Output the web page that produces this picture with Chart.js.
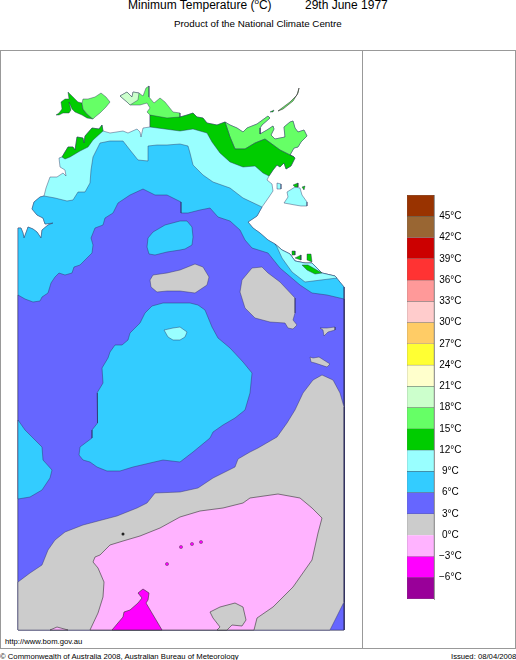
<!DOCTYPE html>
<html>
<head>
<meta charset="utf-8">
<title>Minimum Temperature</title>
<script src="https://cdn.jsdelivr.net/npm/chart.js@4"></script>
<style>
  html, body { margin: 0; padding: 0; background: #fff; }
  body { position: relative; width: 516px; height: 660px; overflow: hidden; font-family: "Liberation Sans", Arial, sans-serif; color: #000; }
  .txt { position: absolute; white-space: nowrap; }
  .line { position: absolute; background: #999; }
  canvas { position: absolute; }
  sup { font-size: 8px; line-height: 0; }
</style>
</head>
<body>
<div class="txt" style="left:128px;top:-2px;font-size:12px">Minimum Temperature (<sup>o</sup>C)</div>
<div class="txt" style="left:305px;top:-2px;font-size:12px">29th June 1977</div>
<div class="txt" style="left:174px;top:18px;font-size:9.8px">Product of the National Climate Centre</div>
<div class="line" style="left:0;top:50px;width:516px;height:1px"></div>
<div class="line" style="left:0;top:50px;width:1px;height:598px"></div>
<div class="line" style="left:362px;top:50px;width:1px;height:598px"></div>
<div class="line" style="left:515px;top:50px;width:1px;height:598px"></div>
<div class="line" style="left:0;top:648px;width:516px;height:1px"></div>
<div class="txt" style="left:5px;top:637px;font-size:7.7px">http://www.bom.gov.au</div>
<div class="txt" style="left:0;top:652px;font-size:7.7px">© Commonwealth of Australia 2008, Australian Bureau of Meteorology</div>
<div class="txt" style="left:451px;top:652px;font-size:7.7px">Issued: 08/04/2008</div>

<canvas id="mapChart" style="left:0;top:50px"></canvas>
<canvas id="barChart" style="left:395px;top:184px"></canvas>

<script>
// Colour scale
const bandEdges = [-9, -6, -3, 0, 3, 6, 9, 12, 15, 18, 21, 24, 27, 30, 33, 36, 39, 42, 45, 48];
const bandColors = ["#990099", "#ff00ff", "#ffb3ff", "#cccccc", "#6666ff", "#33ccff", "#99ffff", "#00cc00", "#66ff66", "#ccffcc",
  "#ffffcc", "#ffff33", "#ffcc66", "#ffcccc", "#ff9999", "#ff3333", "#cc0000", "#996633", "#993300"];

// Map panel grid: [column, row], 1 cell is about 0.0275 degrees
const coastWest = [[18,178],[21,178],[23,183],[24,188],[27,180],[28,177],[33,179],[37,182],[41,188],[42,180],[48,175],[53,173],[45,174],[43,168],[37,165],[32,159],[34,152],[40,147],[44,146]];
const coastNorthWest = [[46,138],[50,127],[57,127],[63,123],[66,126],[65,120],[60,117],[59,108],[62,107],[68,97],[73,97],[75,100],[77,87],[83,88],[84,93],[85,86],[92,78],[99,79],[102,75],[103,81],[110,83],[123,81],[128,83],[137,79],[140,82],[141,87],[143,78],[150,77]];
const coastArnhem = [[150,65],[167,64],[180,67],[187,65],[193,63],[197,67],[203,68],[207,73],[217,75],[225,72]];
const coastCobourg = [[230,75],[237,78],[243,82],[247,78],[257,74],[268,66],[270,68],[262,75],[260,78],[260,84],[267,80],[273,76],[274,79],[271,85],[275,89],[285,87],[284,77],[290,72],[293,71],[295,78],[298,82],[304,80],[307,86],[301,92],[298,97],[294,98],[290,105],[294,107]];
const coastGoveSouth = [[295,108],[291,116],[286,119],[284,113],[280,117],[277,115],[273,120],[269,126]];
const coastGulf = [[267,130],[272,134],[273,141],[269,147],[262,157]];
const coastGulfSouth = [[257,166],[248,172],[253,178],[260,183],[268,190],[275,194]];
const coastStrip = [[282,200],[290,204],[295,211],[305,213],[312,213],[322,223],[335,226]];
const coastEast = [[344,237],[344,580],[18,580]];

const contour9North = [[44,146],[55,148],[67,151],[73,150],[78,142],[85,142],[90,133],[91,120],[93,107],[100,93],[110,91],[123,91],[130,100],[138,110],[148,111],[148,96],[157,95],[167,95],[180,94],[188,96],[190,103],[193,115],[203,125],[213,132],[230,138],[243,148],[262,157]];
const contour6 = [[91,188],[95,178],[103,175],[105,168],[113,163],[118,153],[130,145],[143,139],[155,145],[167,145],[181,152],[181,163],[188,163],[200,160],[210,158],[218,167],[230,171],[240,180],[245,190],[252,198],[268,203],[280,218],[300,235],[312,243],[327,245],[344,249],[344,580],[18,580],[18,245],[25,249],[33,252],[40,251],[42,247],[48,243],[51,233],[55,227],[59,223],[65,225],[72,223],[74,217],[80,215],[92,203],[93,195]];
const stripCyan = [[275,194],[282,200],[290,204],[295,211],[305,213],[312,213],[322,223],[335,226],[337,228],[305,232],[292,222],[282,208],[277,197]];

const blobNorth = [[147,197],[148,188],[153,182],[165,175],[180,171],[187,171],[192,177],[193,187],[192,195],[185,199],[180,200],[167,202],[155,205],[149,204]];
const blobCentre = [[180,253],[163,253],[152,256],[145,263],[140,273],[135,278],[130,283],[128,290],[122,295],[115,295],[110,302],[108,308],[102,318],[103,333],[97,343],[98,360],[97,373],[92,380],[92,388],[80,397],[79,405],[83,410],[90,412],[97,417],[107,421],[120,421],[133,417],[150,413],[163,410],[180,412],[193,402],[210,388],[213,382],[223,375],[235,368],[245,360],[250,343],[252,323],[243,312],[230,298],[218,288],[212,277],[205,260],[198,255],[190,253]];
const blobWest = [[18,370],[25,380],[33,388],[42,397],[43,410],[52,420],[50,428],[42,440],[30,447],[18,449]];
const spotCentre = [[164,280],[173,278],[180,277],[187,282],[185,287],[180,290],[173,290],[168,287]];

const greyA = [[150,230],[153,225],[167,223],[180,220],[195,214],[203,217],[209,227],[207,235],[195,243],[180,241],[167,241],[157,242],[151,237]];
const greyB = [[240,242],[242,230],[252,218],[262,217],[268,223],[280,232],[295,248],[295,263],[293,270],[297,275],[293,279],[288,278],[285,273],[270,272],[255,268],[245,258]];
const greyC = [[320,278],[327,278],[335,277],[335,280],[328,282],[324,286],[323,280]];
const greyD = [[310,307],[313,308],[319,307],[330,314],[327,317],[315,313],[311,312]];
const greySouth = [[18,532],[30,523],[42,515],[48,500],[55,490],[65,482],[83,475],[117,466],[137,458],[147,453],[155,443],[180,442],[198,438],[213,428],[235,417],[238,409],[250,402],[258,398],[277,387],[287,373],[295,360],[303,343],[313,330],[322,325],[333,330],[340,343],[344,357],[344,552],[330,580],[18,580]];
const greyInPink = [[210,562],[220,557],[235,553],[243,557],[246,570],[242,576],[232,575],[227,580],[217,580],[220,577],[213,568]];

const pinkMain = [[90,580],[98,563],[103,547],[104,532],[98,518],[93,512],[95,507],[100,505],[110,495],[123,491],[140,486],[160,478],[180,467],[200,461],[223,458],[243,453],[250,448],[278,444],[300,448],[312,458],[322,468],[318,483],[312,510],[293,537],[273,557],[257,568],[254,580]];
const pinkSmall = [[50,580],[57,577],[68,580]];
const magentaMain = [[112,580],[123,567],[124,562],[130,560],[138,553],[142,548],[138,543],[143,539],[149,543],[148,550],[146,553],[162,580]];
const coldSpots = [[201,492],[192,494],[181,497],[167,514]];

const contour15 = [[225,72],[230,87],[235,99],[245,99],[255,93],[265,89],[280,100],[294,107]];
const contour12 = [[269,126],[263,123],[255,116],[243,117],[230,112],[220,103],[212,92],[207,83],[193,79],[180,81],[165,79],[150,77]];
const arnhemTop = [[150,65],[147,62],[150,58],[147,53],[140,55],[130,55],[127,52],[120,46],[127,42],[132,47],[133,42],[139,43],[143,46],[146,38],[149,36],[149,47],[154,53],[160,48],[165,52],[173,62],[180,63],[180,67],[167,68]];
const arnhemTip = [[120,46],[127,42],[132,47],[133,42],[139,43],[138,50],[130,55],[127,52]];
const anson = [[62,107],[68,97],[73,97],[75,100],[77,87],[83,88],[84,93],[85,86],[92,78],[99,79],[102,75],[103,81],[93,90],[88,97],[80,101],[70,107],[65,109]];
const tiwiWest = [[56,65],[59,63],[62,59],[61,52],[65,49],[69,49],[68,42],[73,47],[78,52],[82,53],[83,59],[87,64],[93,69],[87,68],[82,65],[75,62],[72,59],[69,52],[71,60],[69,63],[63,63],[59,65]];
const tiwiEast = [[82,53],[83,49],[88,49],[95,47],[101,43],[106,47],[110,52],[106,57],[100,63],[95,67],[93,69],[87,64],[83,59]];
const groote = [[287,142],[295,137],[300,138],[302,145],[307,152],[307,156],[301,156],[295,155],[284,153],[288,147]];
const grooteTipA = [[293,135],[298,133],[298,137],[295,137]];
const grooteTipB = [[302,137],[305,136],[304,140]];
const isletGulf = [[277,133],[281,134],[281,139],[277,139]];
const isletThin = [[278,61],[290,52],[297,45],[299,38],[298,43],[293,51],[283,59]];
const isletSmall = [[270,62],[274,60],[273,62]];
const stripGreen = [[302,215],[308,215],[322,223],[315,224],[307,220]];
const stripIsleA = [[292,201],[295,201],[295,205],[292,205]];
const stripIsleB = [[295,208],[301,205],[301,210]];
const stripIsleC = [[307,204],[311,204],[312,212],[307,210]];
const specks = [[123,484]];

const coastline = [...coastWest, ...coastNorthWest, ...coastArnhem, ...coastCobourg, ...coastGoveSouth, ...coastGulf, ...coastGulfSouth, ...coastStrip, ...coastEast];
const blueLand = [...contour9North, ...coastGulfSouth, ...coastStrip, ...coastEast, ...coastWest];
const darkGreenLand = [...coastArnhem, ...contour15, ...coastGoveSouth, ...contour12];
const lightGreenLand = [[225,72], ...coastCobourg, ...contour15.slice().reverse()];

const EDGE = "rgba(40,40,90,0.7)";
const toPoints = pts => pts.map(p => ({ x: p[0], y: p[1] }));
const area = (pts, color, edge) => ({
  type: "line",
  data: toPoints(pts.concat([pts[0]])),
  backgroundColor: color,
  borderColor: edge || EDGE,
  borderWidth: 0.6,
  fill: "shape",
  pointRadius: 0,
  tension: 0
});

// Later layers paint over earlier ones
const layers = [
  area(coastline, "#99ffff"),
  area(blueLand, "#33ccff"),
  area(stripCyan, "#99ffff"),
  area(contour6, "#6666ff"),
  area(blobNorth, "#33ccff"),
  area(blobCentre, "#33ccff"),
  area(blobWest, "#33ccff"),
  area(spotCentre, "#99ffff"),
  area(greyA, "#cccccc"),
  area(greyB, "#cccccc"),
  area(greyC, "#cccccc"),
  area(greyD, "#cccccc"),
  area(greySouth, "#cccccc"),
  area(pinkMain, "#ffb3ff", "#333"),
  area(pinkSmall, "#ffb3ff", "#333"),
  area(greyInPink, "#cccccc", "#333"),
  area(magentaMain, "#ff00ff", "#333"),
  area(lightGreenLand, "#66ff66"),
  area(darkGreenLand, "#00cc00"),
  area(arnhemTop, "#66ff66"),
  area(arnhemTip, "#ccffcc"),
  area(anson, "#00cc00"),
  area(tiwiWest, "#00cc00"),
  area(tiwiEast, "#66ff66"),
  area(groote, "#99ffff"),
  area(grooteTipA, "#00cc00"),
  area(grooteTipB, "#00cc00"),
  area(isletGulf, "#99ffff"),
  area(isletThin, "#66ff66", "#333"),
  area(isletSmall, "#00cc00"),
  area(stripGreen, "#00cc00"),
  area(stripIsleA, "#00cc00"),
  area(stripIsleB, "#00cc00"),
  area(stripIsleC, "#00cc00"),
  { type: "scatter", data: toPoints(coldSpots), backgroundColor: "#ff00ff", borderColor: "#333", borderWidth: 0.4, pointRadius: 1.6 },
  { type: "scatter", data: toPoints(specks), backgroundColor: "#222", borderColor: "#222", borderWidth: 0, pointRadius: 1.5 }
];

Chart.defaults.font.family = '"Liberation Sans", Arial, sans-serif';
Chart.defaults.animation = false;
Chart.defaults.responsive = false;

function sizeCanvas(id, w, h) {
  const c = document.getElementById(id);
  c.width = w;
  c.height = h;
  return c;
}

new Chart(sizeCanvas("mapChart", 362, 584), {
  type: "line",
  // Chart.js paints the first dataset on top, so hand the layers over in reverse
  data: { datasets: layers.slice().reverse() },
  options: {
    layout: { padding: 0, autoPadding: false },
    plugins: { legend: { display: false }, tooltip: { enabled: false } },
    scales: {
      x: { type: "linear", min: 0, max: 362, display: false },
      y: { type: "linear", min: 0, max: 584, reverse: true, display: false }
    }
  }
});

new Chart(sizeCanvas("barChart", 72, 426), {
  type: "bar",
  data: {
    labels: ["band"],
    datasets: bandColors.map((color, i) => ({
      data: [[bandEdges[i], bandEdges[i + 1]]],
      backgroundColor: color,
      borderColor: "#555",
      borderWidth: 0.5,
      grouped: false,
      barPercentage: 1,
      categoryPercentage: 1
    }))
  },
  options: {
    layout: { padding: { left: 12, top: 10, bottom: 9.3 }, autoPadding: false },
    plugins: { legend: { display: false }, tooltip: { enabled: false } },
    scales: {
      x: { display: false },
      y: {
        position: "right",
        min: -9,
        max: 48,
        border: { display: true, color: "#999" },
        grid: { display: false, drawTicks: false },
        ticks: {
          stepSize: 3,
          autoSkip: false,
          color: "#000",
          font: { size: 10 },
          crossAlign: "center",
          padding: 5,
          callback: v => (v === -9 || v === 48) ? "" : (v < 0 ? "\u2212" + Math.abs(v) : v) + "\u00b0C"
        },
        afterFit: s => { s.width = 33; }
      }
    }
  }
});
</script>
</body>
</html>
